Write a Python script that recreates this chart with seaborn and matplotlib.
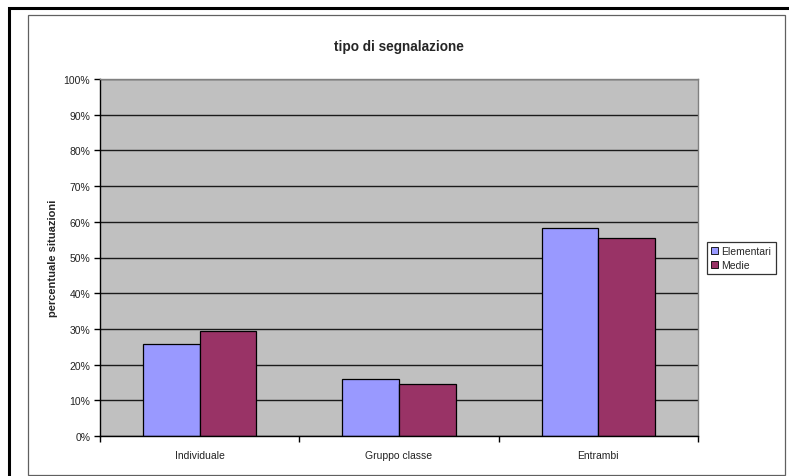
import matplotlib
matplotlib.use("Agg")
import matplotlib.pyplot as plt
import seaborn as sns
import pandas as pd
from matplotlib.patches import Rectangle
from matplotlib.ticker import FixedLocator, PercentFormatter

categories = ["Individuale", "Gruppo classe", "Entrambi"]
elementari = [25.7, 16.0, 58.2]
medie = [29.4, 14.6, 55.6]
series = ["Elementari", "Medie"]
colors = ["#9999FF", "#993366"]

df = pd.DataFrame({
    "categoria": categories * 2,
    "valore": elementari + medie,
    "serie": [series[0]] * 3 + [series[1]] * 3,
})

sns.set_theme(style="white")
plt.rcParams["font.family"] = ["Liberation Sans", "DejaVu Sans"]

W, H = 789, 477
fig = plt.figure(figsize=(W / 100, H / 100), dpi=100)

# outer frame and chart area border, kept behind the axes
fig.patches.append(Rectangle((9 / W, 1 - 600 / H), 900 / W, 591 / H,
                             transform=fig.transFigure, fill=False,
                             edgecolor="black", linewidth=2.2, zorder=-10))
fig.patches.append(Rectangle((28 / W, 1 - 476 / H), 757 / W, 460 / H,
                             transform=fig.transFigure, facecolor="white",
                             edgecolor="#606060", linewidth=0.9, zorder=-9))

ax = fig.add_axes([100 / W, 1 - 437 / H, 598 / W, 357 / H])
ax.set_facecolor("#C0C0C0")

sns.barplot(data=df, x="categoria", y="valore", hue="serie",
            palette=colors, width=0.57, edgecolor="black", linewidth=0.9,
            ax=ax, legend=True, saturation=1)

ax.set_ylim(0, 100)
ax.set_xlim(-0.5, 2.5)
ax.yaxis.set_major_locator(FixedLocator(range(0, 101, 10)))
ax.yaxis.set_major_formatter(PercentFormatter(decimals=0))
ax.grid(axis="y", color="#1a1a1a", linewidth=1.0)
ax.set_axisbelow(True)

for side in ["top", "right"]:
    ax.spines[side].set_color("#808080")
    ax.spines[side].set_linewidth(1.0)
for side in ["left", "bottom"]:
    ax.spines[side].set_color("black")
    ax.spines[side].set_linewidth(1.0)

ax.tick_params(axis="y", which="major", left=True, length=4, width=1,
               color="black", labelsize=7.5, pad=3, labelcolor="#222222")
ax.tick_params(axis="x", which="major", bottom=False, labelsize=7.5,
               pad=4, labelcolor="#222222")
ax.xaxis.set_minor_locator(FixedLocator([-0.5, 0.5, 1.5, 2.5]))
ax.tick_params(axis="x", which="minor", bottom=True, length=4, width=1,
               color="black")

ax.set_xlabel("")
ax.set_ylabel("percentuale situazioni", fontsize=8, fontweight="bold",
              labelpad=4)
ax.set_title("tipo di segnalazione", fontsize=9.8, fontweight="bold", pad=21)

leg = ax.legend(loc="center left", bbox_to_anchor=(707 / W, 1 - 259 / H),
                bbox_transform=fig.transFigure, fontsize=7.5, frameon=True,
                fancybox=False, edgecolor="black", handlelength=0.7,
                handleheight=0.7, handletextpad=0.3, borderpad=0.4,
                labelspacing=0.4, borderaxespad=0)
leg.get_frame().set_linewidth(0.9)
for h in leg.legend_handles:
    h.set_edgecolor("black")
    h.set_linewidth(0.6)

fig.savefig("out.png", dpi=100)
